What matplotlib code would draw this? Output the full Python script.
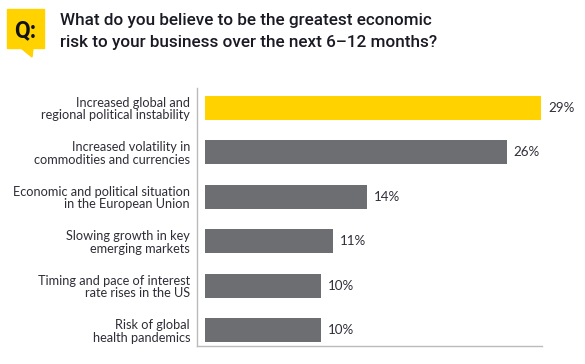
import matplotlib
matplotlib.use("Agg")
import matplotlib.pyplot as plt
from matplotlib.patches import Rectangle, Polygon

categories = [
    "Increased global and\nregional political instability",
    "Increased volatility in\ncommodities and currencies",
    "Economic and political situation\nin the European Union",
    "Slowing growth in key\nemerging markets",
    "Timing and pace of interest\nrate rises in the US",
    "Risk of global\nhealth pandemics",
]
values = [29, 26, 14, 11, 10, 10]
value_labels = ["29%", "26%", "14%", "11%", "10%", "10%"]
title_lines = ["What do you believe to be the greatest economic",
               "risk to your business over the next 6–12 months?"]

YELLOW = "#FFD200"
GRAY = "#6D6E71"
TEXT = "#2E2E38"

W, H = 585, 364
fig = plt.figure(figsize=(W / 100, H / 100), dpi=100)
fig.patch.set_facecolor("white")

ax = fig.add_axes([197 / W, 1 - 346 / H, (542 - 197) / W, (346 - 88) / H])
ypos = list(range(len(values)))
colors = [YELLOW] + [GRAY] * (len(values) - 1)
ax.barh(ypos, values, height=0.54, color=colors, left=0)
ax.set_xlim(-0.69, 29.05)
ax.set_ylim(5.36, -0.45)
for s in ["top", "right"]:
    ax.spines[s].set_visible(False)
for s in ["left", "bottom"]:
    ax.spines[s].set_color("#BBBBBB")
    ax.spines[s].set_linewidth(1.0)
ax.set_xticks([])
ax.set_yticks(ypos)
ax.set_yticklabels(categories, fontsize=9.2, color=TEXT, family="Lato",
                   linespacing=1.05)
ax.tick_params(axis="y", length=0, pad=5)

for y, v, lab in zip(ypos, values, value_labels):
    ax.text(v + 0.6, y, lab, va="center", ha="left", fontsize=9.6,
            color=TEXT, family="Lato", clip_on=False)

# Q badge
fig.patches.append(Rectangle((7 / W, 1 - 48 / H), 37 / W, 39 / H,
                             transform=fig.transFigure, color=YELLOW, zorder=1))
fig.patches.append(Polygon([(21 / W, 1 - 48 / H), (33 / W, 1 - 48 / H), (32 / W, 1 - 57 / H)],
                           closed=True, transform=fig.transFigure, color=YELLOW, zorder=1))
fig.text(25.5 / W, 1 - 37.5 / H, "Q:", ha="center", va="baseline", fontsize=16.5,
         fontweight="bold", color="#111111", family="Roboto")

for i, line in enumerate(title_lines):
    fig.text(60 / W, 1 - (25 + 22 * i) / H, line, ha="left", va="baseline",
             fontsize=12.3, fontweight="medium", color="#1A1A24", family="Roboto")

fig.savefig("out.png", dpi=100)
